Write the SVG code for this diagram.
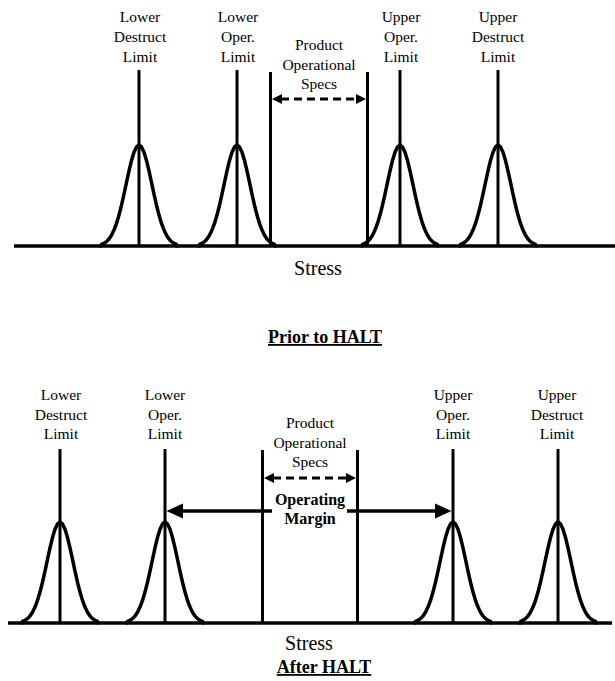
<svg xmlns="http://www.w3.org/2000/svg" xmlns:xlink="http://www.w3.org/1999/xlink" width="615" height="681" viewBox="0 0 615 681" font-family="'Liberation Serif', 'DejaVu Serif', serif">
<style>
text{font-family:'Liberation Serif','DejaVu Serif',serif;fill:#000;text-anchor:middle}
.lbl{font-size:15.5px}
.bold{font-weight:bold;font-size:16px}
.axis{font-size:20px}
.title{font-size:18px;font-weight:bold;text-decoration:underline}
.vl{stroke:#000;stroke-width:3;fill:none}
.base{stroke:#000;stroke-width:3.5;fill:none}
.bellc{stroke:#000;stroke-width:3.5;fill:none;stroke-linejoin:round;stroke-linecap:round}
.dash{stroke:#000;stroke-width:3;stroke-dasharray:8 5;fill:none}
.arr{stroke:#000;stroke-width:3.5;fill:none}
.head{fill:#000}
</style>
<defs>
<path id="bell" class="bellc" d="M-38,0 L-37.5,-1.6 L-35,-2.7 L-32.5,-4.4 L-30,-7 L-27.5,-10.8 L-25,-15.9 L-22.5,-22.6 L-20,-30.9 L-17.5,-40.8 L-15,-51.9 L-12.5,-63.6 L-10,-75.1 L-7.5,-85.5 L-5,-93.8 L-2.5,-99.1 L0,-101 L2.5,-99.1 L5,-93.8 L7.5,-85.5 L10,-75.1 L12.5,-63.6 L15,-51.9 L17.5,-40.8 L20,-30.9 L22.5,-22.6 L25,-15.9 L27.5,-10.8 L30,-7 L32.5,-4.4 L35,-2.7 L37.5,-1.6 L38,0"/>
</defs>

<!-- ===== Prior to HALT ===== -->
<g id="top-axis">
<line class="base" x1="14" y1="246" x2="615" y2="246"/>
<text class="axis" x="318" y="275" font-family="Liberation Serif">Stress</text>
<text class="title" x="325" y="343" font-family="Liberation Serif">Prior to HALT</text>
</g>
<g id="top-lower-destruct" font-family="Liberation Serif">
<line class="vl" x1="139" y1="70" x2="139" y2="246"/>
<use xlink:href="#bell" x="139" y="246"/>
<text class="lbl" x="140" y="22">Lower</text>
<text class="lbl" x="140" y="42">Destruct</text>
<text class="lbl" x="140" y="62">Limit</text>
</g>
<g id="top-lower-oper">
<line class="vl" x1="237" y1="70" x2="237" y2="246"/>
<use xlink:href="#bell" x="237" y="246"/>
<text class="lbl" x="238" y="22">Lower</text>
<text class="lbl" x="238" y="42">Oper.</text>
<text class="lbl" x="238" y="62">Limit</text>
</g>
<g id="top-spec">
<line class="vl" x1="270.5" y1="72" x2="270.5" y2="246"/>
<line class="vl" x1="367.5" y1="72" x2="367.5" y2="246"/>
<text class="lbl" x="319" y="50">Product</text>
<text class="lbl" x="319" y="70">Operational</text>
<text class="lbl" x="319" y="89">Specs</text>
</g>
<g id="top-upper-oper">
<line class="vl" x1="400" y1="70" x2="400" y2="246"/>
<use xlink:href="#bell" x="400" y="246"/>
<text class="lbl" x="401" y="22">Upper</text>
<text class="lbl" x="401" y="42">Oper.</text>
<text class="lbl" x="401" y="62">Limit</text>
</g>
<g id="top-upper-destruct">
<line class="vl" x1="498" y1="70" x2="498" y2="246"/>
<use xlink:href="#bell" x="498" y="246"/>
<text class="lbl" x="498" y="22">Upper</text>
<text class="lbl" x="498" y="42">Destruct</text>
<text class="lbl" x="498" y="62">Limit</text>
</g>

<!-- ===== After HALT ===== -->
<g id="bottom-axis">
<line class="base" x1="8" y1="623" x2="612" y2="623"/>
<text class="axis" x="309" y="650">Stress</text>
<text class="title" x="324" y="673">After HALT</text>
</g>
<g id="bottom-lower-destruct">
<line class="vl" x1="60" y1="449" x2="60" y2="623"/>
<use xlink:href="#bell" x="60" y="623"/>
<text class="lbl" x="61" y="400">Lower</text>
<text class="lbl" x="61" y="420">Destruct</text>
<text class="lbl" x="61" y="439">Limit</text>
</g>
<g id="bottom-lower-oper">
<line class="vl" x1="165" y1="449" x2="165" y2="623"/>
<use xlink:href="#bell" x="165" y="623"/>
<text class="lbl" x="165" y="400">Lower</text>
<text class="lbl" x="165" y="420">Oper.</text>
<text class="lbl" x="165" y="439">Limit</text>
</g>
<g id="bottom-spec">
<line class="vl" x1="262.5" y1="450" x2="262.5" y2="623"/>
<line class="vl" x1="357.5" y1="450" x2="357.5" y2="623"/>
<text class="lbl" x="310" y="428">Product</text>
<text class="lbl" x="310" y="448">Operational</text>
<text class="lbl" x="310" y="467">Specs</text>
<text class="lbl bold" x="310" y="505">Operating</text>
<text class="lbl bold" x="310" y="524">Margin</text>
</g>
<g id="bottom-upper-oper">
<line class="vl" x1="453" y1="449" x2="453" y2="623"/>
<use xlink:href="#bell" x="453" y="623"/>
<text class="lbl" x="453" y="400">Upper</text>
<text class="lbl" x="453" y="420">Oper.</text>
<text class="lbl" x="453" y="439">Limit</text>
</g>
<g id="bottom-upper-destruct">
<line class="vl" x1="558" y1="449" x2="558" y2="623"/>
<use xlink:href="#bell" x="558" y="623"/>
<text class="lbl" x="557" y="400">Upper</text>
<text class="lbl" x="557" y="420">Destruct</text>
<text class="lbl" x="557" y="439">Limit</text>
</g>

<!-- ===== Connectors ===== -->
<g id="connectors">
<line class="dash" x1="281" y1="99" x2="357" y2="99"/>
<polygon class="head" points="272,99 282,94 282,104"/>
<polygon class="head" points="366,99 356,94 356,104"/>
<line class="dash" x1="273" y1="478" x2="347" y2="478"/>
<polygon class="head" points="264,478 274,473 274,483"/>
<polygon class="head" points="356,478 346,473 346,483"/>
<line class="arr" x1="272" y1="511" x2="180" y2="511"/>
<polygon class="head" points="166.5,511 183,503.5 183,518.5"/>
<line class="arr" x1="347" y1="511" x2="438" y2="511"/>
<polygon class="head" points="451.5,511 435,503.5 435,518.5"/>
</g>
</svg>
